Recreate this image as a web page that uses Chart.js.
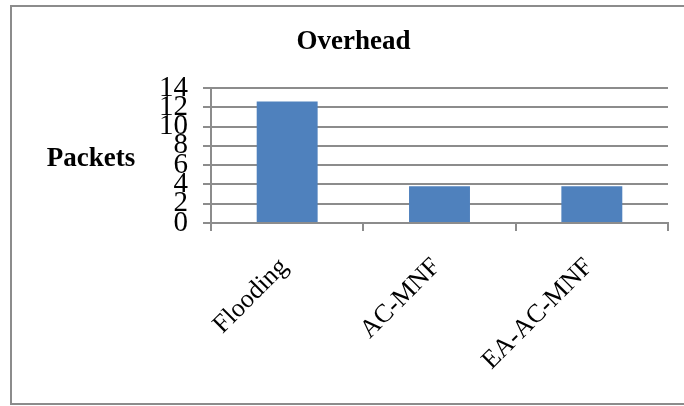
<!DOCTYPE html>
<html>
<head>
<meta charset="utf-8">
<script src="https://cdn.jsdelivr.net/npm/chart.js@4"></script>
<style>
    body { margin: 0; background: #fff; overflow: hidden; }
    #frame {
        position: absolute;
        left: 10px;
        top: 5px;
        width: 700px;
        height: 396px;
        border: 2px solid #8c8c8c;
        border-right: none;
    }
    #chart { position: absolute; left: 0; top: 0; }
</style>
</head>
<body>
<div id="frame">
    <canvas id="chart" width="672" height="396"></canvas>
</div>
<script>
const chartTitle = 'Overhead';
const yTitle = 'Packets';
const categories = ['Flooding', 'AC-MNF', 'EA-AC-MNF'];
const packets = [12.6, 3.8, 3.8];
const yTicks = [0, 2, 4, 6, 8, 10, 12, 14];

const gridGray = '#8c8c8c';

// title and horizontal y-axis label
const textPlugin = {
    id: 'textPlugin',
    afterDraw(chart) {
        const ctx = chart.ctx;
        ctx.save();
        ctx.fillStyle = '#000';
        ctx.font = 'bold 27px "Liberation Serif"';
        ctx.textAlign = 'center';
        ctx.textBaseline = 'alphabetic';
        ctx.fillText(chartTitle, 341.5, 42);
        ctx.fillText(yTitle, 79, 159);
        ctx.restore();
    }
};

const ctx = document.getElementById('chart').getContext('2d');
const myChart = new Chart(ctx, {
    type: 'bar',
    data: {
        labels: categories,
        datasets: [{
            label: 'Packets',
            data: packets,
            backgroundColor: '#4f81bd',
            borderWidth: 0,
            barPercentage: 0.4,
            categoryPercentage: 1
        }]
    },
    options: {
        responsive: false,
        animation: false,
        layout: {
            padding: { left: 0, right: 16, top: 81, bottom: 0 }
        },
        plugins: {
            legend: { display: false },
            title: { display: false },
            tooltip: { enabled: false }
        },
        scales: {
            x: {
                afterFit: function(scale) { scale.height = 180; },
                grid: {
                    offset: true,
                    drawOnChartArea: false,
                    color: gridGray,
                    lineWidth: 2,
                    tickLength: 8
                },
                border: { color: gridGray, width: 2 },
                ticks: {
                    minRotation: 45,
                    maxRotation: 45,
                    autoSkip: false,
                    padding: 21,
                    labelOffset: -3,
                    color: '#000',
                    font: { family: '"Liberation Serif"', size: 26 }
                }
            },
            y: {
                min: 0,
                max: 14,
                afterFit: function(scale) { scale.width = 199; },
                afterBuildTicks: function(scale) {
                    scale.ticks = yTicks.map(v => ({ value: v }));
                },
                grid: {
                    color: gridGray,
                    lineWidth: 2,
                    tickLength: 8
                },
                border: { color: gridGray, width: 2 },
                ticks: {
                    autoSkip: false,
                    padding: 15,
                    color: '#000',
                    font: { family: '"Liberation Serif"', size: 29, lineHeight: 1 }
                }
            }
        }
    },
    plugins: [textPlugin]
});
</script>
</body>
</html>
